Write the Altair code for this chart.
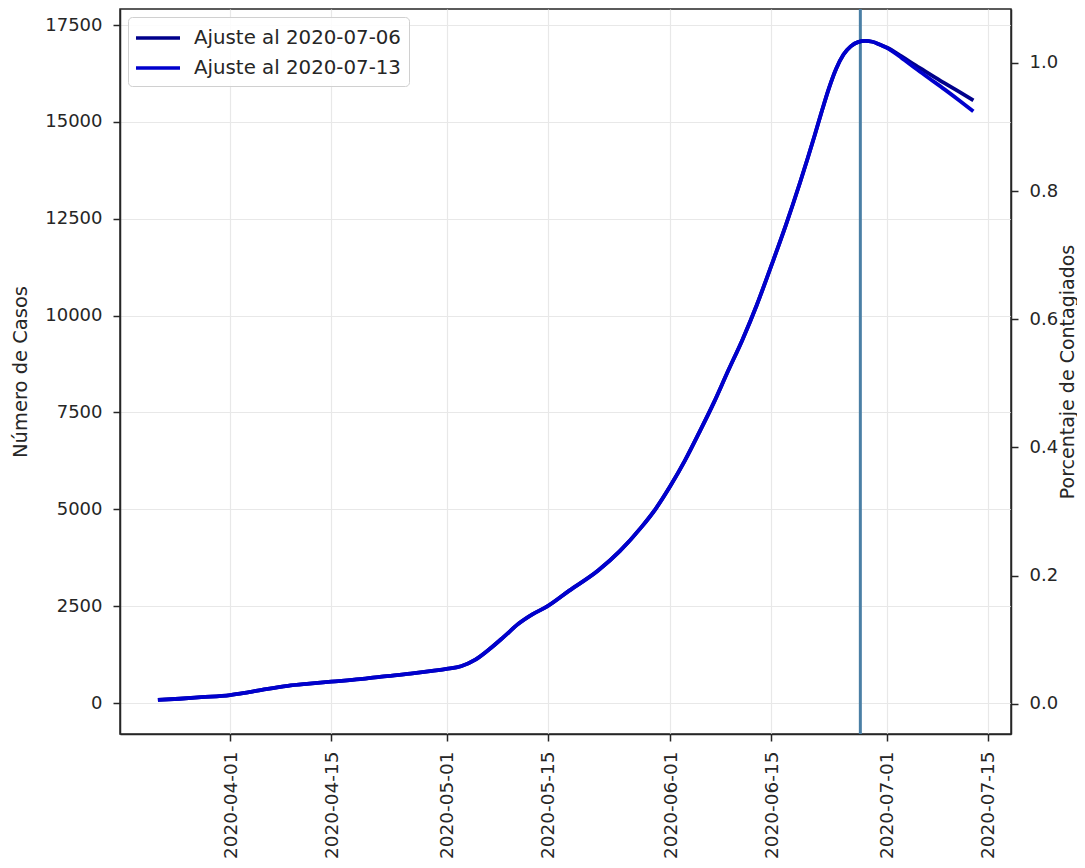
import altair as alt
import pandas as pd

# ---- data ----
dates = [
    "2020-03-22", "2020-03-25", "2020-03-28", "2020-04-01", "2020-04-03",
    "2020-04-06", "2020-04-09", "2020-04-12", "2020-04-15", "2020-04-19",
    "2020-04-22", "2020-04-26", "2020-04-29", "2020-05-01", "2020-05-03",
    "2020-05-05", "2020-05-07", "2020-05-09", "2020-05-11", "2020-05-13",
    "2020-05-15", "2020-05-18", "2020-05-22", "2020-05-25", "2020-05-28",
    "2020-05-30", "2020-06-01", "2020-06-03", "2020-06-05", "2020-06-07",
    "2020-06-09", "2020-06-11", "2020-06-13", "2020-06-15", "2020-06-17",
    "2020-06-19", "2020-06-21", "2020-06-22", "2020-06-23", "2020-06-24",
    "2020-06-25", "2020-06-26", "2020-06-27", "2020-06-28", "2020-06-29",
    "2020-06-30", "2020-07-01", "2020-07-03", "2020-07-05", "2020-07-07",
    "2020-07-09", "2020-07-11", "2020-07-13",
]
fit_0706 = [
    80, 110, 150, 205, 260,
    360, 445, 500, 550, 615,
    680, 760, 830, 880, 950,
    1120, 1400, 1720, 2050, 2300,
    2500, 2900, 3420, 3920, 4540,
    5020, 5600, 6250, 6980, 7740,
    8570, 9380, 10280, 11290, 12330,
    13450, 14650, 15280, 15880, 16380,
    16740, 16950, 17060, 17090, 17070,
    17000, 16920, 16700, 16460, 16230,
    16000, 15780, 15557,
]
fit_0713 = [
    80, 110, 150, 205, 260,
    360, 445, 500, 550, 615,
    680, 760, 830, 880, 950,
    1120, 1400, 1720, 2050, 2300,
    2500, 2900, 3420, 3920, 4540,
    5020, 5600, 6250, 6980, 7740,
    8570, 9380, 10280, 11290, 12330,
    13450, 14650, 15280, 15880, 16380,
    16740, 16950, 17060, 17090, 17070,
    17000, 16910, 16660, 16380, 16110,
    15840, 15560, 15273,
]
series_names = ["Ajuste al 2020-07-06", "Ajuste al 2020-07-13"]
series_colors = ["#00008b", "#0000cd"]

vline_date = "2020-06-27T08:00:00"

left_ticks = [0, 2500, 5000, 7500, 10000, 12500, 15000, 17500]
left_domain = [-800, 17915]
right_ticks = [0.0, 0.2, 0.4, 0.6, 0.8, 1.0]
right_domain = [-0.047, 1.084]
x_tick_dates = [(4, 1), (4, 15), (5, 1), (5, 15), (6, 1), (6, 15), (7, 1), (7, 15)]

# ---- tables ----
rows = []
for d, a, b in zip(dates, fit_0706, fit_0713):
    rows.append({"fecha": d + "T00:00:00", "casos": a, "serie": series_names[0]})
    rows.append({"fecha": d + "T00:00:00", "casos": b, "serie": series_names[1]})
df = pd.DataFrame(rows)

vdf = pd.DataFrame({"fecha": [vline_date], "lo": [right_domain[0]], "hi": [right_domain[1]]})

FONT = "DejaVu Sans"
TXT = "#262626"

x_scale = alt.Scale(domain=[
    alt.DateTime(year=2020, month=3, date=16, hours=18),
    alt.DateTime(year=2020, month=7, date=18, hours=5),
])
x_axis = alt.Axis(
    values=[alt.DateTime(year=2020, month=m, date=d) for m, d in x_tick_dates],
    format="%Y-%m-%d", labelAngle=270, title=None, grid=True,
    labelFlush=False, labelOverlap=False, tickSize=7, labelPadding=10,
    labelFontSize=18.5,
)

rule = alt.Chart(vdf).mark_rule(color="#4a7fa5", strokeWidth=3).encode(
    x=alt.X("fecha:T", scale=x_scale, axis=x_axis),
    y=alt.Y("lo:Q", scale=alt.Scale(domain=right_domain, nice=False, zero=False),
            axis=alt.Axis(orient="right", values=right_ticks, format=".1f",
                          title="Porcentaje de Contagiados", titleAngle=270,
                          titleBaseline="top", titleFontSize=19,
                          grid=False, tickSize=7, labelPadding=11, titlePadding=1)),
    y2="hi:Q",
)

lines = alt.Chart(df).mark_line(strokeWidth=3.8, interpolate="monotone").encode(
    x=alt.X("fecha:T", scale=x_scale, axis=x_axis),
    y=alt.Y("casos:Q", scale=alt.Scale(domain=left_domain, nice=False, zero=False),
            axis=alt.Axis(orient="left", values=left_ticks, format="d",
                          title="Número de Casos", titleFontSize=19.5, grid=True, tickSize=7,
                          labelPadding=11, titlePadding=14)),
    color=alt.Color("serie:N", scale=alt.Scale(domain=series_names, range=series_colors),
                    legend=alt.Legend(title=None, orient="none", legendX=8, legendY=8,
                                      symbolType="M-2,0L2,0", symbolSize=484,
                                      symbolStrokeWidth=3.6, symbolOffset=9,
                                      labelFontSize=19.8,
                                      labelFont=FONT, labelColor=TXT, labelOffset=23,
                                      labelLimit=0,
                                      fillColor="rgba(255,255,255,0.85)",
                                      strokeColor="#d0d0d0", cornerRadius=4,
                                      padding=8, rowPadding=7)),
)

chart = alt.layer(rule, lines).resolve_scale(y="independent").properties(
    width=891, height=725,
    autosize=alt.AutoSizeParams(type="none"),
    padding={"left": 112, "top": 1, "right": 66, "bottom": 131},
).configure_view(
    stroke=TXT, strokeWidth=1.5,
).configure_axis(
    domainColor=TXT, domainWidth=1.5, tickColor=TXT, tickWidth=1.5,
    labelColor=TXT, labelFont=FONT, labelFontSize=18,
    titleColor=TXT, titleFont=FONT, titleFontSize=18, titleFontWeight="normal",
    gridColor="#e8e8e8", gridWidth=1.2,
)

chart.save("out.html", embed_options={"renderer": "svg", "actions": False})
